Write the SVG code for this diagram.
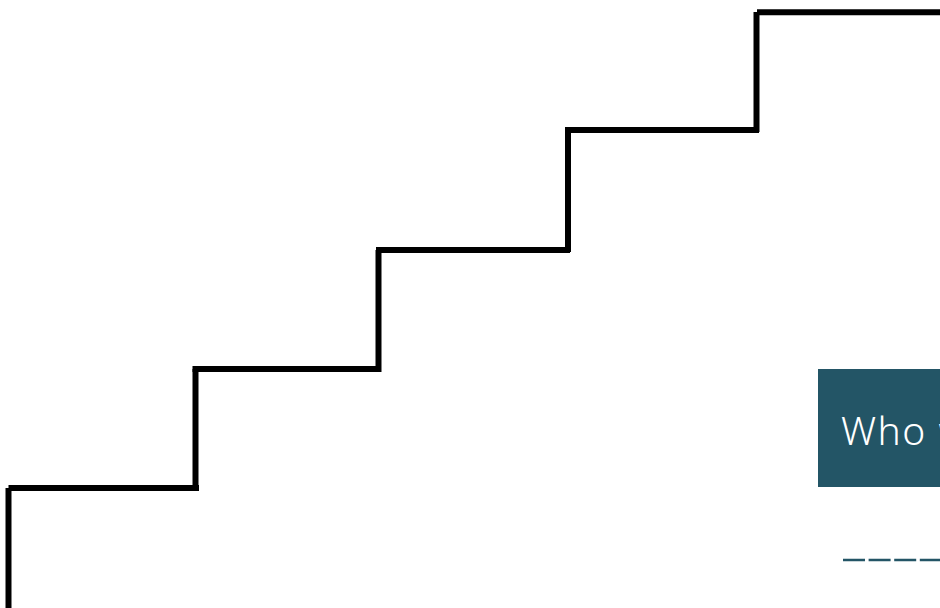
<svg xmlns="http://www.w3.org/2000/svg" width="940" height="608" viewBox="0 0 940 608">
<style>
.st{stroke:#000;stroke-width:6;fill:none;stroke-linecap:butt}
.lbl{font-family:"Noto Sans","DejaVu Sans",sans-serif;font-weight:300;font-size:39px;letter-spacing:1.5px;fill:#fff}
</style>
<rect width="940" height="608" fill="#fff"/>
<g id="stairs">
<line class="st" x1="8.5" y1="488" x2="8.5" y2="608"/>
<line class="st" x1="8.5" y1="488" x2="199" y2="488"/>
<line class="st" x1="195.5" y1="491" x2="195.5" y2="369"/>
<line class="st" x1="192.5" y1="369" x2="380" y2="369"/>
<line class="st" x1="378.5" y1="372" x2="378.5" y2="250"/>
<line class="st" x1="376" y1="250" x2="570" y2="250"/>
<line class="st" x1="568" y1="252" x2="568" y2="130"/>
<line class="st" x1="565" y1="130" x2="759" y2="130"/>
<line class="st" x1="756.5" y1="132" x2="756.5" y2="12"/>
<line class="st" x1="757" y1="12.3" x2="940" y2="12.3"/>
</g>
<g id="title">
<rect x="818" y="369" width="130" height="118" fill="#235566"/>
<text class="lbl" x="841" y="445">Who w</text>
</g>
<g id="divider">
<line x1="843" y1="560" x2="940" y2="560" stroke="#235566" stroke-width="2.6" stroke-dasharray="22 3.6"/>
</g>
</svg>
